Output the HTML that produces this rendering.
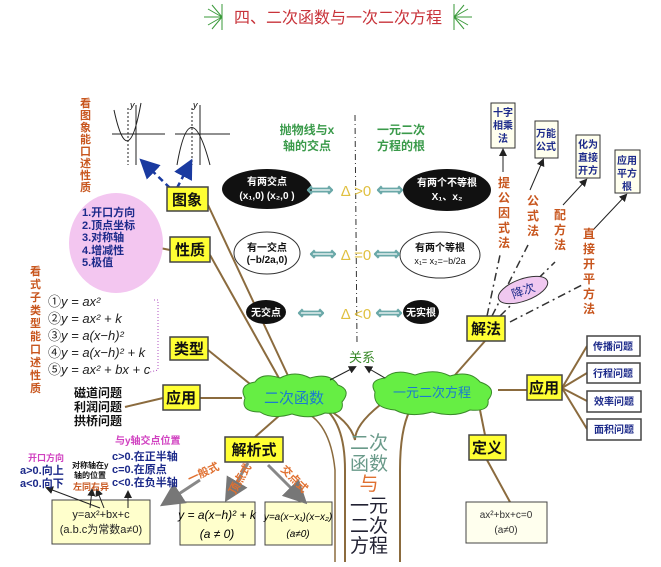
<!DOCTYPE html>
<html><head><meta charset="utf-8"><style>
html,body{margin:0;padding:0;background:#fff}
svg text{font-family:"Liberation Sans","Noto Sans CJK SC",sans-serif}
.b{font-weight:bold}
</style></head><body>
<svg width="661" height="562" viewBox="0 0 661 562" xmlns="http://www.w3.org/2000/svg">
<defs>
<marker id="ah" markerWidth="8" markerHeight="8" refX="6" refY="4" orient="auto"><path d="M0,0 L8,4 L0,8z" fill="#222"/></marker>
<marker id="bh" markerWidth="8" markerHeight="8" refX="6" refY="4" orient="auto"><path d="M0,0 L8,4 L0,8z" fill="#1a3aa0"/></marker>
<marker id="gh" markerWidth="8" markerHeight="8" refX="6" refY="4" orient="auto"><path d="M0,0 L8,4 L0,8z" fill="#777"/></marker>
</defs>
<!-- title -->
<g stroke="#3a9a3a" stroke-width="1">
<line x1="222" y1="4" x2="222" y2="30"/><line x1="204" y1="17" x2="222" y2="17"/><line x1="208" y1="9" x2="222" y2="17"/><line x1="208" y1="25" x2="222" y2="17"/><line x1="212" y1="5" x2="222" y2="17"/><line x1="212" y1="29" x2="222" y2="17"/>
<line x1="454" y1="4" x2="454" y2="30"/><line x1="454" y1="17" x2="472" y2="17"/><line x1="454" y1="17" x2="468" y2="9"/><line x1="454" y1="17" x2="468" y2="25"/><line x1="454" y1="17" x2="464" y2="5"/><line x1="454" y1="17" x2="464" y2="29"/>
</g>
<text x="338" y="23" font-size="16" fill="#c8333a" text-anchor="middle">四、二次函数与一次二次方程</text>

<!-- brown connectors -->
<g stroke="#8b6b3e" stroke-width="2" fill="none">
<line x1="208" y1="205" x2="290" y2="380"/>
<line x1="210" y1="255" x2="280" y2="380"/>
<line x1="145" y1="245" x2="170" y2="250"/>
<line x1="208" y1="350" x2="255" y2="388"/>
<line x1="200" y1="398" x2="242" y2="398"/>
<line x1="125" y1="407" x2="163" y2="398"/>
<line x1="255" y1="437" x2="280" y2="415"/>
<line x1="455" y1="375" x2="485" y2="341"/>
<line x1="498" y1="390" x2="527" y2="390"/>
<line x1="562" y1="388" x2="587" y2="346"/><line x1="562" y1="388" x2="587" y2="373"/><line x1="562" y1="388" x2="587" y2="401"/><line x1="562" y1="388" x2="587" y2="429"/>
<line x1="480" y1="410" x2="485" y2="435"/>
<line x1="487" y1="460" x2="510" y2="502"/>
<path d="M320 405 Q345 420 345 470 L345 562"/>
<path d="M380 405 Q355 425 355 440 Q350 420 320 405"/>
<path d="M410 410 Q400 430 400 470 L400 562"/>
<path d="M300 410 Q330 420 335 470 L335 562" stroke-width="1.5"/>
</g>
<!-- dashed method lines -->
<g stroke="#333" stroke-width="1.5" stroke-dasharray="8,4,2,4" fill="none">
<line x1="487" y1="316" x2="500" y2="255"/>
<line x1="492" y1="316" x2="528" y2="245"/>
<line x1="500" y1="316" x2="555" y2="262"/>
<line x1="510" y1="322" x2="582" y2="285"/>
</g>
<g stroke="#222" stroke-width="1" marker-end="url(#ah)">
<line x1="503" y1="172" x2="503" y2="150"/>
<line x1="530" y1="190" x2="543" y2="160"/>
<line x1="563" y1="205" x2="586" y2="180"/>
<line x1="593" y1="230" x2="626" y2="195"/>
</g>
<!-- vertical dashed line -->
<line x1="355" y1="115" x2="357" y2="343" stroke="#333" stroke-width="1" stroke-dasharray="6,3,1,3"/>

<!-- left top vertical text -->
<text font-size="11" fill="#c8561e" class="b"><tspan x="80" y="107">看</tspan><tspan x="80" y="119">图</tspan><tspan x="80" y="131">象</tspan><tspan x="80" y="143">能</tspan><tspan x="80" y="155">口</tspan><tspan x="80" y="167">述</tspan><tspan x="80" y="179">性</tspan><tspan x="80" y="191">质</tspan></text>
<!-- graphs -->
<g stroke="#222" stroke-width="1" fill="none">
<line x1="112" y1="134" x2="165" y2="134"/><line x1="136" y1="105" x2="136" y2="165"/>
<path d="M114 110 Q128 175 141 103"/><line x1="128" y1="108" x2="128" y2="165" stroke-dasharray="2,2"/>
<line x1="175" y1="134" x2="230" y2="134"/><line x1="200" y1="105" x2="200" y2="165"/>
<path d="M177 165 Q190 90 210 165"/><line x1="192" y1="108" x2="192" y2="165" stroke-dasharray="2,2"/>
</g>
<text x="130" y="108" font-size="9" font-style="italic">y</text><text x="193" y="108" font-size="9" font-style="italic">y</text>
<g stroke="#1a3aa0" stroke-width="2.5" stroke-dasharray="6,4" marker-end="url(#bh)">
<line x1="170" y1="188" x2="143" y2="162"/><line x1="177" y1="188" x2="190" y2="163"/>
</g>
<!-- pink ellipse -->
<ellipse cx="116" cy="243" rx="47" ry="50" fill="#f3c6f0"/>
<text font-size="11" fill="#1c2a8a" class="b"><tspan x="82" y="216">1.开口方向</tspan><tspan x="82" y="229">2.顶点坐标</tspan><tspan x="82" y="241">3.对称轴</tspan><tspan x="82" y="254">4.增减性</tspan><tspan x="82" y="266">5.极值</tspan></text>
<!-- left vertical 2 -->
<text font-size="11" fill="#c8561e" class="b"><tspan x="30" y="275">看</tspan><tspan x="30" y="288">式</tspan><tspan x="30" y="301">子</tspan><tspan x="30" y="314">类</tspan><tspan x="30" y="327">型</tspan><tspan x="30" y="340">能</tspan><tspan x="30" y="353">口</tspan><tspan x="30" y="366">述</tspan><tspan x="30" y="379">性</tspan><tspan x="30" y="392">质</tspan></text>
<g font-family="Liberation Serif,serif" font-size="13" fill="#222">
<text x="48" y="306">①<tspan font-style="italic">y = ax²</tspan></text>
<text x="48" y="323">②<tspan font-style="italic">y = ax² + k</tspan></text>
<text x="48" y="340">③<tspan font-style="italic">y = a(x−h)²</tspan></text>
<text x="48" y="357">④<tspan font-style="italic">y = a(x−h)² + k</tspan></text>
<text x="48" y="374">⑤<tspan font-style="italic">y = ax² + bx + c</tspan></text>
</g>
<path d="M154 300 L158 300 L158 370 L150 372" stroke="#b050c0" stroke-dasharray="1,2" fill="none"/>
<text font-size="12" fill="#111" class="b"><tspan x="74" y="397">磁道问题</tspan><tspan x="74" y="411">利润问题</tspan><tspan x="74" y="425">拱桥问题</tspan></text>

<!-- yellow boxes -->
<g fill="#ffff33" stroke="#444" stroke-width="1.5">
<rect x="167" y="187" width="41" height="24"/><rect x="170" y="237" width="40" height="25"/>
<rect x="170" y="337" width="38" height="23"/><rect x="163" y="385" width="37" height="25"/>
<rect x="225" y="437" width="58" height="25"/><rect x="467" y="316" width="38" height="25"/>
<rect x="527" y="375" width="35" height="25"/><rect x="469" y="435" width="37" height="25"/>
</g>
<g font-size="15" fill="#111" class="b" text-anchor="middle">
<text x="187" y="205">图象</text><text x="190" y="255">性质</text><text x="189" y="354">类型</text><text x="181" y="403">应用</text><text x="254" y="455">解析式</text><text x="486" y="334">解法</text><text x="544" y="393">应用</text><text x="487" y="453">定义</text>
</g>
<!-- clouds -->
<g fill="#66ee44" stroke="#3a8a2a" stroke-width="1">
<path d="M245 398 Q238 385 255 382 Q262 372 280 378 Q295 370 310 378 Q330 372 338 385 Q352 390 342 402 Q345 415 325 413 Q310 420 292 414 Q272 420 260 412 Q240 412 245 398z"/>
<path d="M375 392 Q368 380 385 378 Q395 368 415 375 Q435 368 450 376 Q470 370 480 382 Q498 388 488 400 Q490 412 470 410 Q455 418 432 412 Q410 418 395 410 Q372 408 375 392z"/>
</g>
<text x="294" y="403" font-size="15" fill="#1a7ad0" text-anchor="middle">二次函数</text>
<text x="432" y="397" font-size="13" fill="#1a7ad0" text-anchor="middle">一元二次方程</text>
<text x="362" y="362" font-size="13" fill="#3a8a2a" text-anchor="middle">关系</text>
<g stroke="#222" stroke-width="1" marker-end="url(#ah)"><line x1="330" y1="380" x2="355" y2="367"/><line x1="385" y1="378" x2="366" y2="367"/></g>

<!-- center headings -->
<text font-size="12" fill="#3a9a4a" class="b" text-anchor="middle"><tspan x="307" y="134">抛物线与x</tspan><tspan x="307" y="150">轴的交点</tspan><tspan x="401" y="134">一元二次</tspan><tspan x="401" y="150">方程的根</tspan></text>
<!-- ellipses row -->
<ellipse cx="267" cy="189" rx="45" ry="20" fill="#111"/>
<text font-size="10" fill="#fff" class="b" text-anchor="middle"><tspan x="267" y="185">有两交点</tspan><tspan x="267" y="199">(x₁,0) (x₂,0 )</tspan></text>
<ellipse cx="447" cy="190" rx="44" ry="21" fill="#111"/>
<text font-size="10" fill="#fff" class="b" text-anchor="middle"><tspan x="447" y="186">有两个不等根</tspan><tspan x="447" y="200">X₁、x₂</tspan></text>
<ellipse cx="267" cy="253" rx="33" ry="21" fill="#fff" stroke="#333"/>
<text font-size="10" fill="#111" class="b" text-anchor="middle"><tspan x="267" y="251">有一交点</tspan><tspan x="267" y="263">(−b/2a,0)</tspan></text>
<ellipse cx="440" cy="255" rx="40" ry="23" fill="#fff" stroke="#333"/>
<text font-size="10" fill="#111" text-anchor="middle"><tspan x="440" y="251" class="b">有两个等根</tspan><tspan x="440" y="264" font-size="9">x₁= x₂=−b/2a</tspan></text>
<ellipse cx="266" cy="312" rx="20" ry="12" fill="#111"/><text x="266" y="316" font-size="10" fill="#fff" class="b" text-anchor="middle">无交点</text>
<ellipse cx="421" cy="312" rx="18" ry="12" fill="#111"/><text x="421" y="316" font-size="10" fill="#fff" class="b" text-anchor="middle">无实根</text>
<g font-size="19" fill="#6aa8a8" class="b" text-anchor="middle">
<text x="320" y="196">⟺</text><text x="390" y="196">⟺</text>
<text x="323" y="260">⟺</text><text x="387" y="260">⟺</text>
<text x="311" y="319">⟺</text><text x="389" y="319">⟺</text>
</g>
<g font-size="15" fill="#e0c040" text-anchor="middle">
<text x="356" y="196">Δ &gt;0</text><text x="356" y="260">Δ =0</text><text x="356" y="319">Δ &lt;0</text>
</g>

<!-- vertical center text -->
<g font-size="19" text-anchor="middle">
<text x="369" y="449" fill="#6a9a8a">二次</text><text x="369" y="470" fill="#6a9a8a">函数</text>
<text x="369" y="490" fill="#e07030">与</text>
<text x="369" y="512" fill="#223">一元</text><text x="369" y="532" fill="#223">二次</text><text x="369" y="552" fill="#223">方程</text>
</g>

<!-- right method boxes -->
<g fill="#ffffee" stroke="#333" stroke-width="1">
<rect x="491" y="103" width="24" height="45"/><rect x="535" y="121" width="23" height="37"/>
<rect x="576" y="135" width="24" height="43"/><rect x="615" y="150" width="25" height="43"/>
</g>
<g font-size="10" fill="#1c2a8a" class="b" text-anchor="middle">
<text><tspan x="503" y="116">十字</tspan><tspan x="503" y="129">相乘</tspan><tspan x="503" y="142">法</tspan></text>
<text><tspan x="546" y="137">万能</tspan><tspan x="546" y="150">公式</tspan></text>
<text><tspan x="588" y="148">化为</tspan><tspan x="588" y="161">直接</tspan><tspan x="588" y="174">开方</tspan></text>
<text><tspan x="627" y="164">应用</tspan><tspan x="627" y="177">平方</tspan><tspan x="627" y="190">根</tspan></text>
</g>
<g font-size="12" fill="#c8561e" class="b" text-anchor="middle">
<text><tspan x="504" y="187">提</tspan><tspan x="504" y="202">公</tspan><tspan x="504" y="217">因</tspan><tspan x="504" y="232">式</tspan><tspan x="504" y="247">法</tspan></text>
<text><tspan x="533" y="205">公</tspan><tspan x="533" y="220">式</tspan><tspan x="533" y="235">法</tspan></text>
<text><tspan x="560" y="219">配</tspan><tspan x="560" y="234">方</tspan><tspan x="560" y="249">法</tspan></text>
<text><tspan x="589" y="238">直</tspan><tspan x="589" y="253">接</tspan><tspan x="589" y="268">开</tspan><tspan x="589" y="283">平</tspan><tspan x="589" y="298">方</tspan><tspan x="589" y="313">法</tspan></text>
</g>
<ellipse cx="523" cy="290" rx="26" ry="11" fill="#f0c8f0" stroke="#333" transform="rotate(-20 523 290)"/>
<text x="523" y="295" font-size="12" fill="#1c2a8a" text-anchor="middle" transform="rotate(-20 523 290)">降次</text>
<!-- right app boxes -->
<g fill="#fff" stroke="#444" stroke-width="1.5">
<rect x="587" y="336" width="53" height="20"/><rect x="587" y="363" width="53" height="20"/>
<rect x="587" y="391" width="54" height="21"/><rect x="587" y="419" width="54" height="21"/>
</g>
<g font-size="10" fill="#1c2a8a" class="b" text-anchor="middle">
<text x="613" y="350">传播问题</text><text x="613" y="377">行程问题</text><text x="614" y="405">效率问题</text><text x="614" y="433">面积问题</text>
</g>
<rect x="466" y="502" width="81" height="41" fill="#ffffee" stroke="#444"/>
<text font-size="10" fill="#333" text-anchor="middle"><tspan x="506" y="518">ax²+bx+c=0</tspan><tspan x="506" y="533">(a≠0)</tspan></text>

<!-- bottom left -->
<g fill="#ffffcc" stroke="#444">
<rect x="52" y="500" width="98" height="44"/><rect x="180" y="502" width="75" height="43"/><rect x="265" y="502" width="67" height="43"/>
</g>
<text font-size="11" fill="#222" text-anchor="middle"><tspan x="101" y="518">y=ax²+bx+c</tspan><tspan x="101" y="533">(a.b.c为常数a≠0)</tspan></text>
<text font-family="Liberation Serif,serif" font-style="italic" font-size="12" text-anchor="middle"><tspan x="217" y="519">y = a(x−h)² + k</tspan><tspan x="217" y="538">(a ≠ 0)</tspan></text>
<text font-family="Liberation Serif,serif" font-style="italic" font-size="10" text-anchor="middle"><tspan x="298" y="520">y=a(x−x₁)(x−x₂)</tspan><tspan x="298" y="537">(a≠0)</tspan></text>
<g stroke="#222" stroke-width="1" marker-end="url(#ah)">
<line x1="100" y1="508" x2="47" y2="488"/><line x1="90" y1="508" x2="92" y2="490"/><line x1="104" y1="508" x2="97" y2="490"/><line x1="128" y1="508" x2="128" y2="492"/>
</g>
<g stroke="#888" stroke-width="3" marker-end="url(#gh)">
<line x1="200" y1="480" x2="165" y2="503"/><line x1="248" y1="463" x2="228" y2="497"/><line x1="268" y1="465" x2="303" y2="500"/>
</g>
<text x="190" y="483" font-size="11" fill="#e07030" class="b" transform="rotate(-25 190 483)">一般式</text>
<text x="235" y="495" font-size="11" fill="#e07030" class="b" transform="rotate(-60 235 495)">顶点式</text>
<text x="280" y="470" font-size="11" fill="#e07030" class="b" transform="rotate(45 280 470)">交点式</text>
<text font-size="9" fill="#d040c0" class="b"><tspan x="28" y="461">开口方向</tspan></text>
<text font-size="11" fill="#1c2a8a" class="b"><tspan x="20" y="474">a&gt;0.向上</tspan><tspan x="20" y="487">a&lt;0.向下</tspan></text>
<text font-size="8" fill="#111" class="b"><tspan x="72" y="468">对称轴在y</tspan><tspan x="74" y="478">轴的位置</tspan></text>
<text x="73" y="490" font-size="9" fill="#c8561e" class="b">左同右异</text>
<text x="115" y="444" font-size="10" fill="#d040c0" class="b">与y轴交点位置</text>
<text font-size="11" fill="#1c2a8a" class="b"><tspan x="112" y="460">c&gt;0.在正半轴</tspan><tspan x="112" y="473">c=0.在原点</tspan><tspan x="112" y="486">c&lt;0.在负半轴</tspan></text>
</svg>
</body></html>
